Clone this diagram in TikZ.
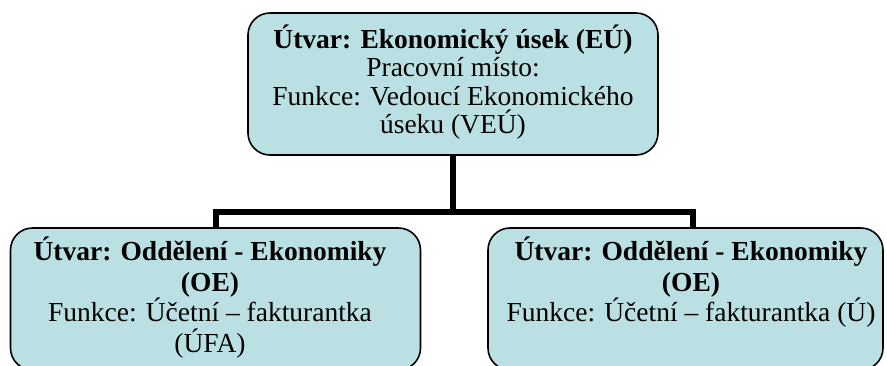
\documentclass[tikz,border=0pt]{standalone}
\usepackage{fontspec}
\usetikzlibrary{calc}
\setmainfont{Liberation Serif}
\definecolor{boxfill}{RGB}{186,224,228}
\tikzset{
  orgbox/.style={draw=black, line width=1.6pt, fill=boxfill, rounded corners=22pt,
    minimum width=410pt, minimum height=142pt, inner sep=0pt},
  orgtext/.style={align=center, inner sep=0pt, font=\fontsize{27.5}{28.5}\selectfont},
  orgtextb/.style={align=center, inner sep=0pt, font=\fontsize{27.5}{30.5}\selectfont},
  conn/.style={draw=black, line width=6pt, line join=miter}
}
\begin{document}
\begin{tikzpicture}[x=1pt,y=1pt]
  \useasboundingbox (0,0) rectangle (887,-365);
  \clip (0,0) rectangle (887,-365);
  \fill[white] (0,0) rectangle (887,-365);

  % boxes
  \node[orgbox] (eu) at (453,-84) {};
  \node[orgbox] (oe1) at (215.5,-299) {};
  \node[orgbox, minimum width=395pt] (oe2) at (685.5,-299) {};

  % connectors
  \coordinate (bus) at (0,-212);
  \coordinate (oe2in) at ($(oe2.north)+(7.5,0)$);
  \draw[conn] (eu.south) -- (eu.south |- bus);
  \draw[conn] (oe1.north) -- (oe1.north |- bus) -- (oe2in |- bus) -- (oe2in);

  % texts
  \node[orgtext, anchor=center] (teu) at (453,-82)
    {\textbf{Útvar: Ekonomický úsek (EÚ)}\\Pracovní místo:\\Funkce: Vedoucí Ekonomického\\úseku (VEÚ)};
  \node[orgtextb, anchor=north] (toe1) at (210,-237)
    {\textbf{Útvar: Oddělení - Ekonomiky}\\\textbf{(OE)}\\Funkce: Účetní – fakturantka\\(ÚFA)};
  \node[orgtextb, anchor=north] (toe2) at (691,-237)
    {\textbf{Útvar: Oddělení - Ekonomiky}\\\textbf{(OE)}\\Funkce: Účetní – fakturantka (Ú)};
\end{tikzpicture}
\end{document}
